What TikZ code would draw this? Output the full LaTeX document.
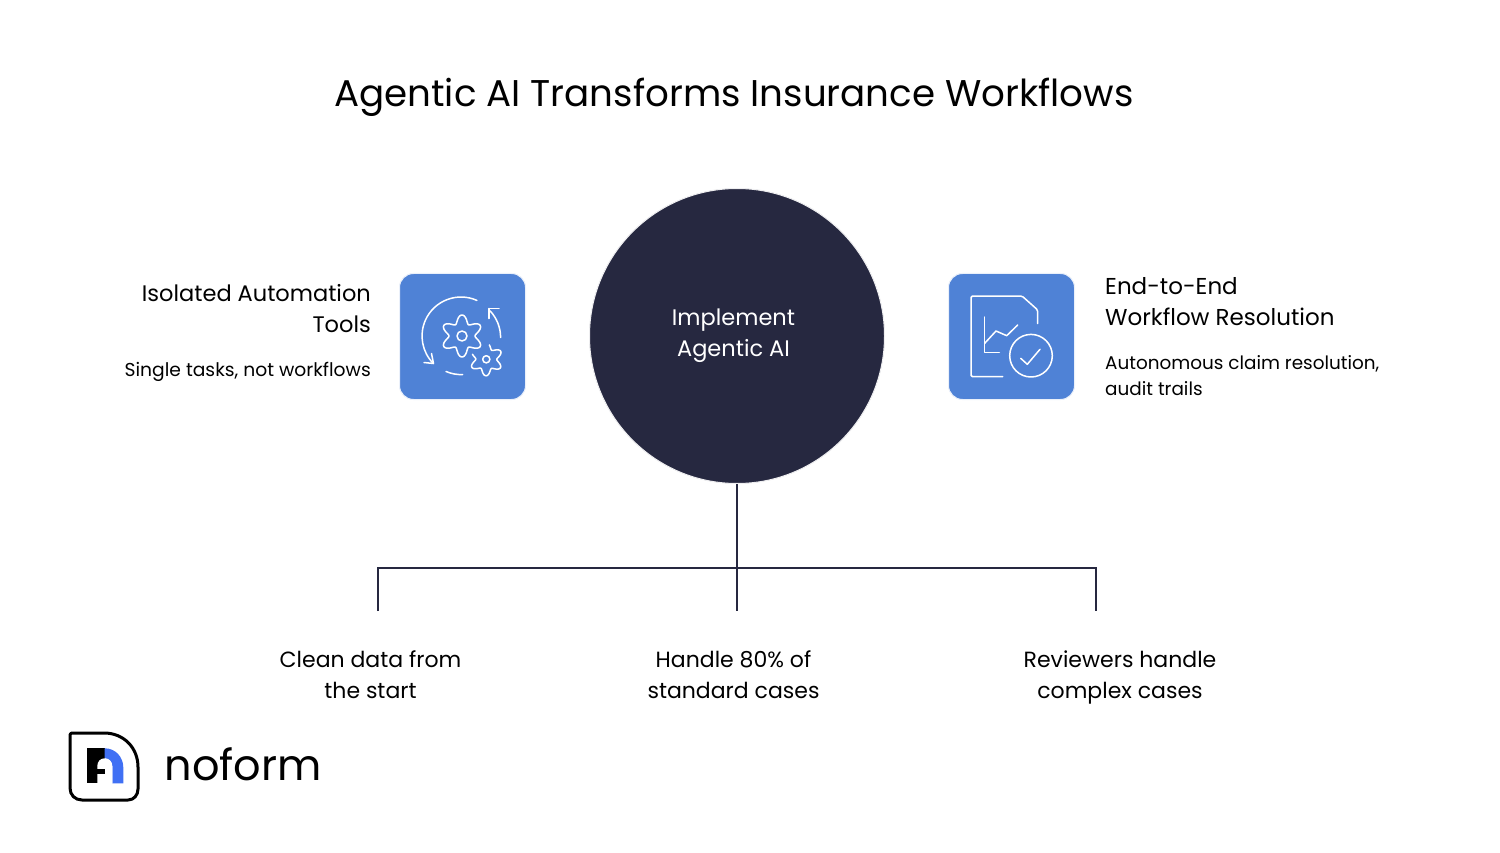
\documentclass[tikz,border=0pt]{standalone}
\usepackage{fontspec}
\setmainfont{Poppins}
\definecolor{navy}{HTML}{262840}
\definecolor{iconblue}{HTML}{4F82D6}
\definecolor{logoblue}{HTML}{4070F4}
\tikzset{
  txt/.style={font=\fontsize{22.5}{31}\selectfont, text=black, inner sep=0pt, align=center},
  lowtxt/.style={txt, font=\fontsize{22}{31}\selectfont},
  small/.style={font=\fontsize{18.7}{26}\selectfont, text=black, inner sep=0pt},
  iconbox/.style={fill=iconblue, draw=iconblue!12, line width=1pt, rounded corners=14pt},
  iconline/.style={draw=white, line width=1.5pt, line cap=round, line join=round},
  conn/.style={draw=navy, line width=1.3pt}
}
\begin{document}
\begin{tikzpicture}[x=1pt,y=-1pt]
\useasboundingbox (0,0) rectangle (1500,853);
\fill[white] (0,0) rectangle (1500,853);
\node[txt,font=\fontsize{37.2}{46}\selectfont] (title) at (734,97) {Agentic AI Transforms Insurance Workflows};
% centre
\node[circle,fill=navy,draw=navy!8,line width=1pt,minimum size=295pt,inner sep=0pt] (hub) at (737,336) {};
\node[txt,text=white] (hubtext) at (733.5,335.5) {Implement\\Agentic AI};
% connectors
\coordinate (j) at (737,568);
\coordinate (a) at (378,568);
\coordinate (c) at (1096,568);
\coordinate (ad) at (378,611);
\coordinate (bd) at (737,611);
\coordinate (cd) at (1096,611);
\draw[conn] (hub.south) -- (bd);
\draw[conn] (ad) -- (a) -- (c) -- (cd);
\node[lowtxt] (t1) at (370.5,675) {Clean data from\\the start};
\node[lowtxt] (t2) at (733.5,675) {Handle 80\% of\\standard cases};
\node[lowtxt] (t3) at (1120,677) {Reviewers handle\\complex cases};
% left
\node[txt,align=right,anchor=east] (lt) at (371,309) {Isolated Automation\\Tools};
\node[small,anchor=east] (ls) at (371,372) {Single tasks, not workflows};
\node[iconbox,minimum size=126pt] (lbox) at (462.5,336.5) {};
\draw[iconline] (476.9,300.4) arc[start angle=-66,end angle=-225,radius=39];
\draw[iconline] (424,362.5) -- (433.5,363.5) -- (431.5,353.5);
\draw[iconline] (500.6,337.5) arc[start angle=0,end angle=-43,radius=39];
\draw[iconline] (489,308.5) -- (489,318.5);
\draw[iconline] (489,308.5) -- (499,308.5);
\draw[iconline] (446,371.5) arc[start angle=-247,end angle=-272,radius=39];
\draw[iconline,smooth,samples=121,domain=0:360] plot ({462+(17+4*cos(6*\x+180))*cos(\x)},{336+(17+4*cos(6*\x+180))*sin(\x)}) -- cycle;
\draw[iconline] (462,336) circle[radius=5];
\draw[iconline,smooth,samples=95,domain=-78:200] plot ({486.3+(13.5+3*cos(6*\x+174))*cos(\x)},{359.3+(13.5+3*cos(6*\x+174))*sin(\x)});
\draw[iconline] (486.3,359.3) circle[radius=3.6];
% right
\node[txt,align=left,anchor=west,font=\fontsize{23}{31}\selectfont] (rt) at (1105,301.5) {End-to-End\\Workflow Resolution};
\node[small,align=left,anchor=west,font=\fontsize{18.4}{26}\selectfont] (rs) at (1105,375.5) {Autonomous claim resolution,\\audit trails};
\node[iconbox,minimum size=126pt] (rbox) at (1011.5,336.5) {};
\draw[iconline,rounded corners=1.5pt] (1037.7,323.5) -- (1037.7,310) -- (1022,296) -- (971,296) -- (971,376.7) -- (1002.7,376.7);
\draw[iconline] (984.7,317) -- (984.7,352.3) -- (999.3,352.3);
\draw[iconline] (984.7,343.3) -- (996,331) -- (1006.7,335.7) -- (1017.7,325);
\draw[iconline] (1031,355.7) circle[radius=21.3];
\draw[iconline] (1020.7,358.3) -- (1027.3,364.3) -- (1040,349.3);
% logo
\draw[black,line width=3pt,line join=round] (72,733) -- (104,733) .. controls (124,733) and (138,748) .. (138,767) -- (138,789) .. controls (138,795) and (134,800) .. (128,800) -- (82,800) .. controls (75,800) and (70,795) .. (70,788) -- (70,735) .. controls (70,734) and (71,733) .. (72,733) -- cycle;
\fill[black] (87.3,748.3) rectangle (104.7,783.3);
\fill[logoblue] (104.7,748.3) .. controls (115.5,748.3) and (123.3,757) .. (123.3,767.5) -- (123.3,783.3) -- (112.3,783.3) -- (112.3,766) .. controls (112.3,762) and (109,758.5) .. (104.7,758.3) -- cycle;
\fill[white] (97.3,783.3) -- (97.3,766) .. controls (97.3,761.5) and (100.5,758.3) .. (104.7,758.3) .. controls (109,758.3) and (112.3,761.5) .. (112.3,766) -- (112.3,783.3) -- cycle;
\fill[black] (97.3,769) rectangle (104.7,774);
\node[inner sep=0pt,font=\fontsize{43}{43}\selectfont,text=black] (logo) at (243,764) {noform};
\end{tikzpicture}
\end{document}
